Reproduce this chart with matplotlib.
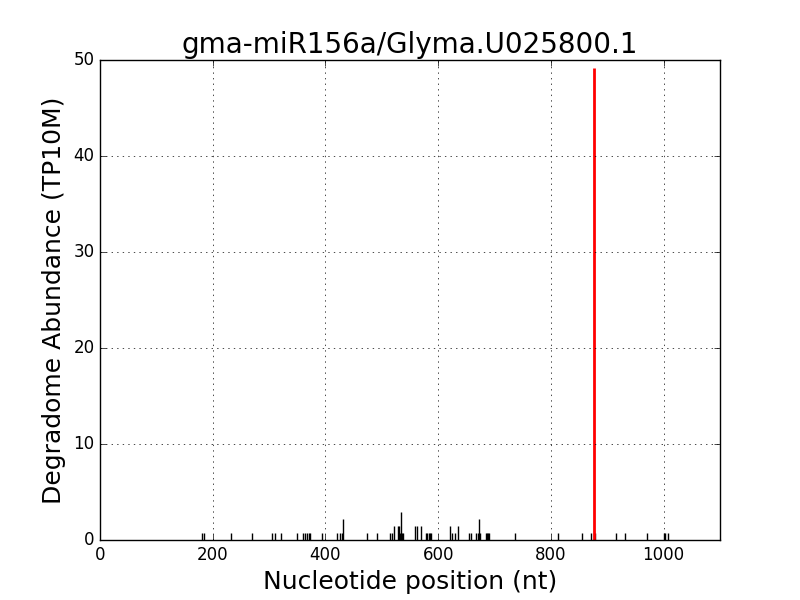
import matplotlib
matplotlib.use("Agg")
import matplotlib.pyplot as plt

# degradome peaks (position in nt, abundance in TP10M)
positions = [181, 184, 232, 270, 306, 310, 322, 350, 361, 364, 367, 371, 373,
             394, 421, 426, 429, 432, 474, 492, 515, 518, 522, 528, 531, 533,
             534, 536, 538, 559, 563, 569, 579, 581, 583, 585, 587, 621, 625,
             629, 635, 655, 659, 667, 670, 672, 675, 685, 687, 689, 691, 736,
             813, 855, 872, 878, 915, 932, 971, 1001, 1003, 1008]
abundance = [0.72, 0.72, 0.72, 0.72, 0.72, 0.72, 0.72, 0.72, 0.72, 0.72, 0.72,
             0.72, 0.72, 0.72, 0.72, 0.72, 0.72, 2.17, 0.72, 0.72, 0.72, 0.72,
             1.45, 1.45, 1.45, 0.72, 2.9, 0.72, 0.72, 1.45, 1.45, 1.45, 0.72,
             0.72, 0.72, 0.72, 0.72, 1.45, 0.72, 0.72, 1.45, 0.72, 0.72, 0.72,
             0.72, 2.17, 0.72, 0.72, 0.72, 0.72, 0.72, 0.72, 0.72, 0.72, 0.72,
             0.72, 0.72, 0.72, 0.72, 0.72, 0.72, 0.72]

# cleavage site
site_pos = 876
site_abundance = 49.2

plt.style.use("classic")
fig, ax = plt.subplots(figsize=(8, 6), dpi=100, facecolor="white")
fig.subplots_adjust(left=0.125, right=0.9, bottom=0.1, top=0.9)

ax.vlines(positions, 0, abundance, color="k", lw=1)
ax.vlines(site_pos, 0, site_abundance, color="r", lw=2)

ax.set_xlim(0, 1100)
ax.set_ylim(0, 50)
ax.grid(True)
ax.set_title("gma-miR156a/Glyma.U025800.1", fontsize=20)
ax.set_xlabel("Nucleotide position (nt)", fontsize=18)
ax.set_ylabel("Degradome Abundance (TP10M)", fontsize=18)

plt.savefig("out.png", facecolor="white")
